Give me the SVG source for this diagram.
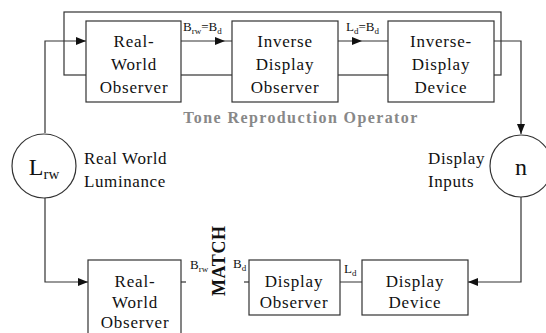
<svg xmlns="http://www.w3.org/2000/svg" width="546" height="333" viewBox="0 0 546 333">
  <style>
    .box { fill: #fff; stroke: #333; stroke-width: 1.2; }
    .ln { fill: none; stroke: #333; stroke-width: 1.2; }
    text { font-family: 'Liberation Serif', serif; fill: #111; }
    .t { font-size: 17px; text-anchor: middle; letter-spacing: 0.8px; }
    .lab { font-size: 13px; }
    .cap { font-size: 17px; letter-spacing: 0.6px; }
    .sub { font-size: 9px; }
    .op { font-size: 16px; font-weight: bold; fill: #888; text-anchor: middle; letter-spacing: 1.4px; }
  </style>
  <defs>
    <marker id="arr" markerWidth="10" markerHeight="8" refX="10" refY="4" orient="auto" markerUnits="userSpaceOnUse">
      <path d="M0,0 L10,4 L0,8 Z" fill="#111"/>
    </marker>
  </defs>

  <!-- tone reproduction operator frame -->
  <rect class="ln" x="64" y="12" width="437" height="63"/>
  <text class="op" x="301" y="123">Tone Reproduction Operator</text>

  <g id="connectors">
    <!-- top chain -->
    <path class="ln" d="M45,133 V41 H86" marker-end="url(#arr)"/>
    <path class="ln" d="M181,41 H225 H232" marker-mid="url(#arr)"/>
    <path class="ln" d="M338,41 H362 H388" marker-mid="url(#arr)"/>
    <path class="ln" d="M494,41 H521 V134" marker-end="url(#arr)"/>
    <!-- bottom chain -->
    <path class="ln" d="M45,198 V282 H88" marker-end="url(#arr)"/>
    <path class="ln" d="M521,197 V282 H468" marker-end="url(#arr)"/>
    <path class="ln" d="M362,282 H333 H340" marker-mid="url(#arr)"/>
    <path class="ln" d="M181,282 H186"/>
    <path class="ln" d="M244,282 H249"/>
  </g>

  <!-- connector labels -->
  <text class="lab" x="183" y="31">B<tspan class="sub" dy="3">rw</tspan><tspan dy="-3">=B</tspan><tspan class="sub" dy="3">d</tspan></text>
  <text class="lab" x="346" y="31">L<tspan class="sub" dy="3">d</tspan><tspan dy="-3">=B</tspan><tspan class="sub" dy="3">d</tspan></text>
  <text class="lab" x="190" y="269">B<tspan class="sub" dy="3">rw</tspan></text>
  <text class="lab" x="233" y="268">B<tspan class="sub" dy="3">d</tspan></text>
  <text class="lab" x="344" y="273">L<tspan class="sub" dy="3">d</tspan></text>
  <text transform="translate(225,296) rotate(-90)" font-size="18" font-weight="bold" letter-spacing="0.6">MATCH</text>

  <g id="rwo-top">
    <rect class="box" x="86" y="21" width="95" height="81"/>
    <text class="t" x="134" y="47">Real-</text>
    <text class="t" x="134" y="70">World</text>
    <text class="t" x="134" y="93">Observer</text>
  </g>
  <g id="ido">
    <rect class="box" x="232" y="21" width="106" height="81"/>
    <text class="t" x="285" y="47">Inverse</text>
    <text class="t" x="285" y="70">Display</text>
    <text class="t" x="285" y="93">Observer</text>
  </g>
  <g id="idd">
    <rect class="box" x="388" y="21" width="106" height="81"/>
    <text class="t" x="441" y="47">Inverse-</text>
    <text class="t" x="441" y="70">Display</text>
    <text class="t" x="441" y="93">Device</text>
  </g>

  <g id="lrw">
    <circle class="box" cx="44" cy="166" r="32"/>
    <text x="44" y="175" font-size="24" text-anchor="middle">L<tspan font-size="15" dy="4">rw</tspan></text>
    <text class="cap" x="84" y="164">Real World</text>
    <text class="cap" x="84" y="187">Luminance</text>
  </g>
  <g id="n">
    <circle class="box" cx="521" cy="166" r="31"/>
    <text x="521" y="175" font-size="24" text-anchor="middle">n</text>
    <text class="cap" x="428" y="164">Display</text>
    <text class="cap" x="428" y="187">Inputs</text>
  </g>

  <g id="rwo-bottom">
    <rect class="box" x="88" y="260" width="93" height="80"/>
    <text class="t" x="135" y="287">Real-</text>
    <text class="t" x="135" y="308">World</text>
    <text class="t" x="135" y="328">Observer</text>
  </g>
  <g id="do">
    <rect class="box" x="249" y="260" width="91" height="55"/>
    <text class="t" x="294" y="287">Display</text>
    <text class="t" x="294" y="308">Observer</text>
  </g>
  <g id="dd">
    <rect class="box" x="362" y="260" width="106" height="55"/>
    <text class="t" x="415" y="287">Display</text>
    <text class="t" x="415" y="308">Device</text>
  </g>
</svg>
